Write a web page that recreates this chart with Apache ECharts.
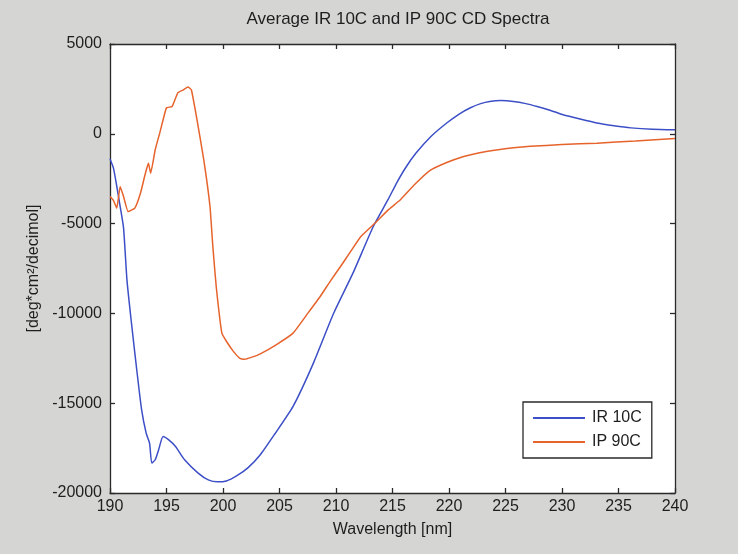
<!DOCTYPE html>
<html>
<head>
<meta charset="utf-8">
<script src="https://cdn.jsdelivr.net/npm/echarts@6/dist/echarts.min.js"></script>
<style>
  html, body { margin: 0; padding: 0; background: #d5d5d3; }
  #chart { width: 738px; height: 554px; }
</style>
</head>
<body>
<div id="chart"></div>
<script>
// Average CD spectra: mean residue ellipticity vs. wavelength
const titleText = 'Average IR 10C and IP 90C CD Spectra';
const xAxisName = 'Wavelength [nm]';
const yAxisName = '[deg*cm\u00B2/decimol]';
const seriesNames = ['IR 10C', 'IP 90C'];

// IR 10C
const irWavelength = [190.0, 190.3, 190.6, 190.9, 191.2, 191.5, 191.9, 192.4, 192.8, 193.2, 193.5, 193.7,
  194.0, 194.3, 194.7, 195.2, 195.8, 196.6, 197.8, 198.7, 199.5, 200.3, 201.2, 202.2, 203.3,
  204.6, 206.2, 208.0, 209.8, 211.5, 213.3, 214.6, 215.4, 216.2, 217.1, 218.4, 219.8, 220.9,
  221.9, 222.8, 223.6, 224.6, 225.7, 226.8, 227.8, 229.0, 230.1, 231.6, 233.1, 234.6, 236.1,
  238.0, 240.0];
const irValue = [-1400, -1900, -2930, -4050, -5250, -8130, -10540, -13320, -15370, -16670, -17220, -18330,
  -18150, -17600, -16850, -17040, -17410, -18150, -18890, -19270, -19380, -19330, -19050, -18600, -17870,
  -16700, -15180, -12770, -9980, -7760, -5160, -3670, -2700, -1850, -1060, -150, 600, 1100,
  1450, 1680, 1800, 1850, 1800, 1680, 1520, 1300, 1060, 820, 600, 450, 330,
  250, 220];

// IP 90C
const ipWavelength = [190.0, 190.3, 190.6, 190.9, 191.2, 191.6, 192.2, 192.7, 193.1, 193.4, 193.6, 194.0,
  194.4, 194.7, 195.0, 195.5, 196.0, 196.5, 196.9, 197.2, 197.7, 198.3, 198.85, 199.1, 199.4,
  199.9, 200.3, 200.9, 201.5, 201.9, 202.5, 203.3, 204.7, 206.2, 207.5, 208.6, 209.5, 210.4,
  211.3, 212.2, 213.6, 214.6, 215.7, 217.0, 218.3, 219.8, 221.3, 222.7, 224.2, 225.7, 227.2,
  230.0, 233.1, 236.5, 240.0];
const ipValue = [-3490, -3700, -4140, -2930, -3490, -4330, -4140, -3300, -2280, -1630, -2190, -890,
  40, 780, 1450, 1520, 2280, 2450, 2600, 2450, 780, -1450, -4050, -6270, -8500,
  -11100, -11550, -12100, -12500, -12550, -12450, -12250, -11750, -11100, -10000, -9060, -8200, -7390,
  -6550, -5720, -4880, -4250, -3670, -2800, -2050, -1600, -1260, -1050, -900, -780, -700,
  -600, -520, -400, -260];

const toPairs = (xs, ys) => xs.map((x, i) => [x, ys[i]]);

const fontFamily = '"Liberation Sans", Arial, sans-serif';
const textColor = '#1e1e1e';
const frameColor = '#2a2a2a';
const irColor = '#3c4fc6';
const ipColor = '#e6632c';

const chart = echarts.init(document.getElementById('chart'));

const frameLine = { show: true, onZero: false, lineStyle: { color: frameColor, width: 1.3 } };
const frameTick = { show: true, inside: true, length: 5, lineStyle: { color: frameColor, width: 1.3 } };

chart.setOption({
  backgroundColor: '#d5d5d3',
  animation: false,
  title: {
    text: titleText,
    left: 393,
    top: 6,
    textAlign: 'center',
    textStyle: { fontFamily, fontSize: 17, fontWeight: 'normal', color: textColor }
  },
  legend: {
    data: seriesNames,
    orient: 'vertical',
    left: 523,
    top: 402,
    padding: [7, 10, 7, 10],
    itemGap: 6,
    itemWidth: 52,
    itemHeight: 2,
    icon: 'rect',
    backgroundColor: '#ffffff',
    borderColor: frameColor,
    borderWidth: 1.3,
    borderRadius: 0,
    textStyle: { fontFamily, fontSize: 16, color: textColor, padding: [0, 0, 0, 2], lineHeight: 18 }
  },
  grid: {
    left: 110,
    right: 63,
    top: 44,
    bottom: 61,
    show: true,
    backgroundColor: '#ffffff',
    borderWidth: 0
  },
  xAxis: [
    {
      type: 'value',
      min: 190,
      max: 240,
      interval: 5,
      name: xAxisName,
      nameLocation: 'middle',
      nameGap: 29,
      nameTextStyle: { fontFamily, fontSize: 16, color: textColor },
      axisLine: frameLine,
      axisTick: frameTick,
      axisLabel: { fontFamily, fontSize: 16, color: textColor, margin: 6 },
      splitLine: { show: false }
    },
    {
      type: 'value',
      position: 'top',
      min: 190,
      max: 240,
      interval: 5,
      axisLine: frameLine,
      axisTick: frameTick,
      axisLabel: { show: false },
      splitLine: { show: false }
    }
  ],
  yAxis: [
    {
      type: 'value',
      min: -20000,
      max: 5000,
      interval: 5000,
      name: yAxisName,
      nameLocation: 'middle',
      nameGap: 60,
      nameRotate: 90,
      nameTextStyle: { fontFamily, fontSize: 16, color: textColor },
      axisLine: frameLine,
      axisTick: frameTick,
      axisLabel: { fontFamily, fontSize: 16, color: textColor, margin: 8, formatter: v => String(v) },
      splitLine: { show: false }
    },
    {
      type: 'value',
      position: 'right',
      min: -20000,
      max: 5000,
      interval: 5000,
      axisLine: frameLine,
      axisTick: frameTick,
      axisLabel: { show: false },
      splitLine: { show: false }
    }
  ],
  series: [
    {
      name: seriesNames[0],
      type: 'line',
      data: toPairs(irWavelength, irValue),
      symbol: 'none',
      smooth: 0.2,
      lineStyle: { color: irColor, width: 1.5 },
      itemStyle: { color: irColor }
    },
    {
      name: seriesNames[1],
      type: 'line',
      data: toPairs(ipWavelength, ipValue),
      symbol: 'none',
      smooth: 0.12,
      lineStyle: { color: ipColor, width: 1.5 },
      itemStyle: { color: ipColor }
    }
  ]
});
</script>
</body>
</html>
